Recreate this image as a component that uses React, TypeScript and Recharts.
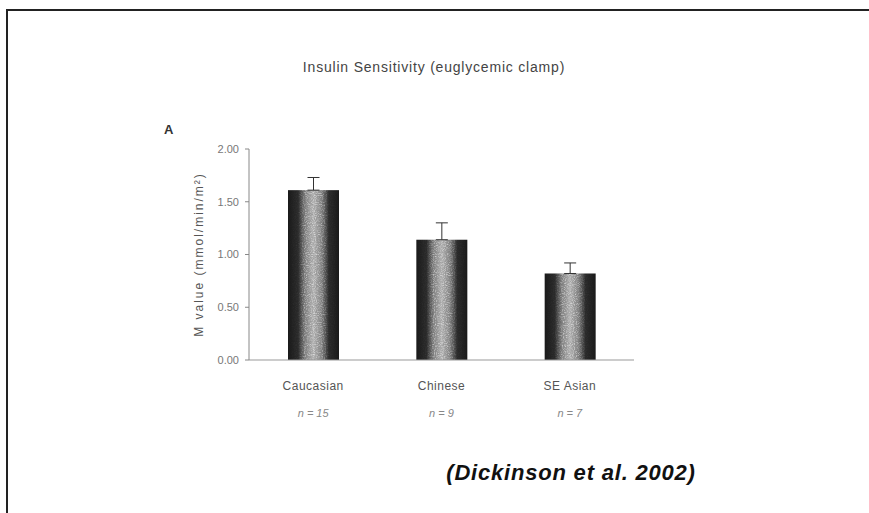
import React from 'react';
import { BarChart, Bar, XAxis, YAxis, ErrorBar } from 'recharts';

const groups = ['Caucasian', 'Chinese', 'SE Asian'];
const sampleSizes = ['n = 15', 'n = 9', 'n = 7'];
const mValues = [1.61, 1.14, 0.82];
const semValues = [0.12, 0.16, 0.1];
const yTicks = [0, 0.5, 1, 1.5, 2];

const data = groups.map((g, i) => ({
  group: g,
  n: sampleSizes[i],
  value: mValues[i],
  err: [0, semValues[i]],
}));

const FONT = '"Liberation Sans", Arial, sans-serif';

const CatTick = (props: any) => {
  const { x, y, payload, index } = props;
  return (
    <g>
      <text x={x} y={y + 22} textAnchor="middle" fontFamily={FONT} fontSize={12} letterSpacing={0.5} fill="#555">
        {payload.value}
      </text>
      <text x={x} y={y + 49} textAnchor="middle" fontFamily={FONT} fontSize={11} fontStyle="italic" fill="#888">
        {sampleSizes[index]}
      </text>
    </g>
  );
};

const BarShape = (props: any) => {
  const { x, y, width, height } = props;
  return (
    <g>
      <rect x={x} y={y} width={width} height={height} fill="url(#barGrad)" />
      <rect x={x} y={y} width={width} height={height} fill="url(#darkMask)" filter="url(#speck)" />
      <rect x={x} y={y} width={width} height={height} fill="url(#lightMask)" filter="url(#speckLight)" />
    </g>
  );
};

export default function App() {
  return (
    <div style={{ position: 'absolute', left: 0, top: 0, width: 869, height: 513, background: '#fff', overflow: 'hidden' }}>
      <div style={{ position: 'absolute', left: 6, top: 9, width: 869, height: 513, borderTop: '2px solid #222', borderLeft: '2px solid #222' }} />
      <div style={{ position: 'absolute', left: 434, top: 59, transform: 'translateX(-50%)', whiteSpace: 'nowrap', fontFamily: FONT, fontSize: 14, letterSpacing: 0.8, color: '#444' }}>
        Insulin Sensitivity (euglycemic clamp)
      </div>
      <div style={{ position: 'absolute', left: 164, top: 122, fontFamily: FONT, fontSize: 13, fontWeight: 'bold', color: '#333' }}>A</div>
      <div style={{ position: 'absolute', left: 571, top: 460, transform: 'translateX(-50%)', whiteSpace: 'nowrap', fontFamily: FONT, fontSize: 22, letterSpacing: 0.8, fontWeight: 'bold', fontStyle: 'italic', color: '#111' }}>
        (Dickinson et al. 2002)
      </div>
      <div style={{ position: 'absolute', left: 0, top: 0 }}>
        <BarChart width={869} height={513} data={data} margin={{ top: 149, right: 235, bottom: 93, left: 189 }} barSize={51}>
          <defs>
            <linearGradient id="barGrad" x1="0" y1="0" x2="1" y2="0">
              <stop offset="0%" stopColor="#1a1a1a" />
              <stop offset="20%" stopColor="#2a2a2a" />
              <stop offset="34%" stopColor="#7e7e7e" />
              <stop offset="50%" stopColor="#b4b4b4" />
              <stop offset="66%" stopColor="#7e7e7e" />
              <stop offset="80%" stopColor="#2a2a2a" />
              <stop offset="100%" stopColor="#1a1a1a" />
            </linearGradient>
            <linearGradient id="darkMask" x1="0" y1="0" x2="1" y2="0">
              <stop offset="0%" stopColor="#000" stopOpacity={0} />
              <stop offset="22%" stopColor="#000" stopOpacity={0.1} />
              <stop offset="40%" stopColor="#000" stopOpacity={0.8} />
              <stop offset="60%" stopColor="#000" stopOpacity={0.8} />
              <stop offset="78%" stopColor="#000" stopOpacity={0.1} />
              <stop offset="100%" stopColor="#000" stopOpacity={0} />
            </linearGradient>
            <linearGradient id="lightMask" x1="0" y1="0" x2="1" y2="0">
              <stop offset="0%" stopColor="#fff" stopOpacity={0} />
              <stop offset="20%" stopColor="#fff" stopOpacity={0.05} />
              <stop offset="35%" stopColor="#fff" stopOpacity={0.7} />
              <stop offset="65%" stopColor="#fff" stopOpacity={0.7} />
              <stop offset="80%" stopColor="#fff" stopOpacity={0.05} />
              <stop offset="100%" stopColor="#fff" stopOpacity={0} />
            </linearGradient>
            <filter id="speck" x="0" y="0" width="100%" height="100%">
              <feTurbulence type="fractalNoise" baseFrequency="0.9" numOctaves="1" seed="3" result="noise" />
              <feColorMatrix in="noise" type="matrix" values="0 0 0 0 0.25  0 0 0 0 0.25  0 0 0 0 0.25  2.2 0 0 0 -1.05" result="alpha" />
              <feComposite in="alpha" in2="SourceGraphic" operator="in" />
            </filter>
            <filter id="speckLight" x="0" y="0" width="100%" height="100%">
              <feTurbulence type="fractalNoise" baseFrequency="0.9" numOctaves="1" seed="11" result="noise" />
              <feColorMatrix in="noise" type="matrix" values="0 0 0 0 1  0 0 0 0 1  0 0 0 0 1  2.2 0 0 0 -1.0" result="alpha" />
              <feComposite in="alpha" in2="SourceGraphic" operator="in" />
            </filter>
          </defs>
          <XAxis
            dataKey="group"
            axisLine={{ stroke: '#999', strokeWidth: 1 }}
            tickLine={false}
            height={60}
            tick={<CatTick />}
            interval={0}
          />
          <YAxis
            domain={[0, 2]}
            ticks={yTicks}
            width={60}
            axisLine={{ stroke: '#888', strokeWidth: 1 }}
            tickLine={{ stroke: '#888' }}
            tickSize={4}
            tick={{ fontFamily: FONT, fontSize: 11, fill: '#777', dx: -4 }}
            tickFormatter={(v: number) => v.toFixed(2)}
            label={{
              value: 'M value (mmol/min/m²)',
              angle: -90,
              position: 'insideLeft',
              offset: 10,
              style: { fontFamily: FONT, fontSize: 12, fill: '#555', letterSpacing: 2, textAnchor: 'middle' },
            }}
          />
          <Bar dataKey="value" isAnimationActive={false} shape={<BarShape />}>
            <ErrorBar dataKey="err" direction="y" width={6} stroke="#333" strokeWidth={1} isAnimationActive={false} />
          </Bar>
        </BarChart>
      </div>
    </div>
  );
}
